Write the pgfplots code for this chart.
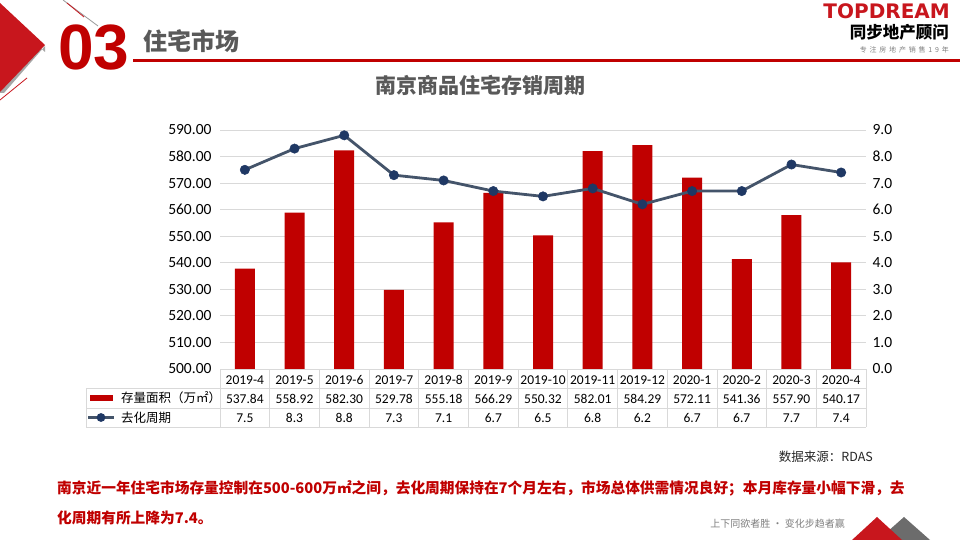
\documentclass[border=0pt]{standalone}
\usepackage{fontspec}
\setmainfont{Carlito}
\newfontfamily\cjk{Noto Sans CJK SC}
\newfontfamily\cjksp{Noto Sans CJK SC}[LetterSpace=40]
\newfontfamily\arialf{Liberation Sans}
\newfontfamily\dejab{DejaVu Sans}
\usepackage{pgfplots}
\pgfplotsset{compat=1.18}
\definecolor{barred}{HTML}{C00000}
\definecolor{hdred}{HTML}{C8161D}
\definecolor{slate}{HTML}{44546A}
\definecolor{navy}{HTML}{1F3864}
\definecolor{txtgray}{HTML}{595959}
\definecolor{gridgray}{HTML}{D9D9D9}
\newcommand\fs[1]{\fontsize{#1}{#1}\selectfont}

\begin{document}
\begin{tikzpicture}[x=1pt,y=1pt]
\path[fill=white,use as bounding box] (0,0) rectangle (960,540);

% header decoration
\fill[gray!70] (0,532) -- (45,488) -- (45,494) -- (4,447) -- (0,447) -- cycle;
\fill[hdred] (0,537) -- (45,495) -- (0,448) -- cycle;
\draw[hdred,line width=0.8pt] (27,462) -- (0,440);
\draw[gray!80,line width=0.8pt] (63,540) -- (98,514);
\draw[hdred,line width=0.8pt] (67,537) -- (84,523);
\node[anchor=base west,inner sep=0,text=barred] at (58,470) {\arialf\bfseries\fs{64}03};
\node[anchor=base west,inner sep=0,text=txtgray] at (143,489) {\cjk\bfseries\fs{24}住宅市场};
\draw[barred,line width=3pt] (133,479.5) -- (960,479.5);

% logo
\node[anchor=base east,inner sep=0,text=hdred] at (950,521) {\dejab\bfseries\fs{20}TOPDREAM};
\node[anchor=base east,inner sep=0,text=black] at (949,501) {\cjk\bfseries\fs{16.5}同步地产顾问};
\node[anchor=base east,inner sep=0,text=gray] at (949,487) {\cjksp\fs{7}专注房地产销售19年};

% title
\node[inner sep=0,text=txtgray] at (480,455) {\cjk\bfseries\fs{21}南京商品住宅存销周期};

\begin{axis}[
  at={(220pt,171pt)}, anchor=south west,
  scale only axis, width=646pt, height=239pt,
  xmin=-0.5, xmax=12.5, ymin=500, ymax=590,
  ytick={500,510,...,590},
  ymajorgrids, grid style={gridgray,line width=0.8pt},
  axis line style={draw=none}, tick style={draw=none},
  /pgf/number format/assume math mode=true,
  yticklabel={\pgfmathprintnumber[fixed,fixed zerofill,precision=2]{\tick}},
  yticklabel style={font=\fs{15.5},xshift=-5pt},
  xtick={0,...,12},
  xticklabels={
    {\strut 2019-4\\537.84\\7.5},{\strut 2019-5\\558.92\\8.3},{\strut 2019-6\\582.30\\8.8},
    {\strut 2019-7\\529.78\\7.3},{\strut 2019-8\\555.18\\7.1},{\strut 2019-9\\566.29\\6.7},
    {\strut 2019-10\\550.32\\6.5},{\strut 2019-11\\582.01\\6.8},{\strut 2019-12\\584.29\\6.2},
    {\strut 2020-1\\572.11\\6.7},{\strut 2020-2\\541.36\\6.7},{\strut 2020-3\\557.90\\7.7},
    {\strut 2020-4\\540.17\\7.4}},
  xticklabel style={align=center,anchor=north,inner sep=0pt,yshift=-1.5pt,
    font=\fontsize{13.5}{19.3}\selectfont},
]
\addplot[ybar, bar width=20pt, fill=barred, draw=none]
  coordinates {(0,537.84)(1,558.92)(2,582.30)(3,529.78)(4,555.18)(5,566.29)
    (6,550.32)(7,582.01)(8,584.29)(9,572.11)(10,541.36)(11,557.90)(12,540.17)};
\end{axis}

\begin{axis}[
  at={(220pt,171pt)}, anchor=south west,
  scale only axis, width=646pt, height=239pt,
  xmin=-0.5, xmax=12.5, ymin=0, ymax=9,
  axis x line=none, axis y line*=right,
  y axis line style={draw=none}, ytick style={draw=none},
  ytick={0,1,...,9},
  /pgf/number format/assume math mode=true,
  yticklabel={\pgfmathprintnumber[fixed,fixed zerofill,precision=1]{\tick}},
  yticklabel style={font=\fs{15.5},xshift=3pt},
  clip=false,
]
\addplot[slate, line width=2.8pt, mark=*, mark size=4.7pt,
  mark options={fill=navy,draw=navy,line width=0.5pt}]
  coordinates {(0,7.5)(1,8.3)(2,8.8)(3,7.3)(4,7.1)(5,6.7)(6,6.5)
    (7,6.8)(8,6.2)(9,6.7)(10,6.7)(11,7.7)(12,7.4)};
\end{axis}

% table grid
\begin{scope}[gridgray,line width=0.8pt]
\draw (220,171) -- (866,171);
\draw (86,152) -- (866,152);
\draw (86,132) -- (866,132);
\draw (86,113) -- (866,113);
\draw (86,113) -- (86,152);
\foreach \k in {0,...,13} {\draw ({220+\k*646/13},113) -- ({220+\k*646/13},171);}
\end{scope}
% legend column
\fill[barred] (90,139) rectangle (113,145);
\node[anchor=west,inner sep=0] at (121,142) {\cjk\fs{12.5}存量面积（万㎡）};
\draw[slate,line width=2.5pt] (88,122.5) -- (114,122.5);
\fill[navy] (101,122.5) circle (4.4pt);
\node[anchor=west,inner sep=0] at (121,122.5) {\cjk\fs{12.5}去化周期};

% source
\node[anchor=base east,inner sep=0,text=black!85] at (873,78) {\cjk\fs{12.5}数据来源：RDAS};

% comment text
\node[anchor=base west,inner sep=0,text=barred] at (57,46) {\cjk\bfseries\fs{14.7}南京近一年住宅市场存量控制在500-600万㎡之间，去化周期保持在7个月左右，市场总体供需情况良好；本月库存量小幅下滑，去};
\node[anchor=base west,inner sep=0,text=barred] at (57,16) {\cjk\bfseries\fs{14.7}化周期有所上降为7.4。};

% footer
\node[anchor=base east,inner sep=0,text=gray] at (845,12) {\cjk\fs{10}上下同欲者胜 · 变化步趋者赢};
\fill[gray!85!black] (878,0) -- (904,23) -- (930,0) -- cycle;
\fill[hdred] (852,0) -- (877,23) -- (902,0) -- cycle;
\end{tikzpicture}
\end{document}
